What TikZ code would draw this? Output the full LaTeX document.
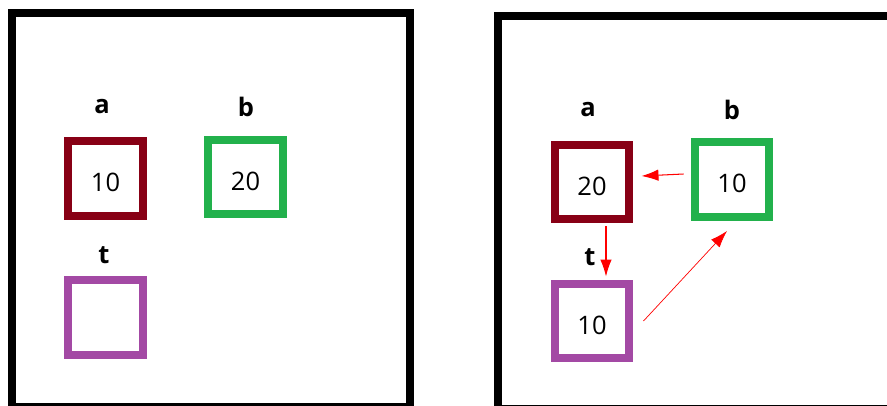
\documentclass[tikz,border=0pt]{standalone}
\usepackage{fontspec}
\setmainfont{Open Sans}
\usetikzlibrary{arrows.meta,positioning}
\definecolor{ink}{HTML}{000000}
\definecolor{darkred}{HTML}{880015}
\definecolor{paintgreen}{HTML}{22B14C}
\definecolor{paintpurple}{HTML}{A349A4}
\definecolor{arrowred}{HTML}{FF0000}

\begin{document}
\begin{tikzpicture}[x=0.02cm,y=-0.02cm,
  frame/.style={draw=ink,line width=0.16cm},
  cell/.style={draw,line width=0.16cm,minimum size=1.5cm,inner sep=0pt,
    text height=15pt,text depth=0pt,font=\fontsize{14.5}{17}\selectfont},
  varname/.style={inner sep=0pt,font=\fontsize{14.5}{17}\selectfont\bfseries},
  swap/.style={-{Latex[length=3.4mm,width=2.3mm]},draw=arrowred,line width=0.6pt}
]
\clip (0,0) rectangle (887,406);

% before the swap
\draw[frame] (12,13) rectangle (409.5,407);
\node[cell,draw=darkred] (aL) at (105.5,178.5) {10};
\node[cell,draw=paintgreen] (bL) at (245.5,177) {20};
\node[cell,draw=paintpurple] (tL) at (105.5,317.5) {};
\node[varname] (aLname) at (102,107) {a};
\node[varname] (bLname) at (246,107) {b};
\node[varname] (tLname) at (104,255) {t};

% after the swap
\draw[frame] (498,16) rectangle (900,409);
\node[cell,draw=darkred] (aR) at (592,182) {20};
\node[cell,draw=paintgreen] (bR) at (732,179.5) {10};
\node[cell,draw=paintpurple] (tR) at (592,321) {10};
\node[varname] (aRname) at (588,110) {a};
\node[varname] (bRname) at (732,110) {b};
\node[varname] (tRname) at (590,257) {t};

\draw[swap] ([yshift=0.11cm]bR.west) ++(-0.14cm,0) -- ([shift={(0.16cm,0.12cm)}]aR.east);
\draw[swap] ([shift={(0.28cm,-0.06cm)}]aR.south) -- ([shift={(0.28cm,0.06cm)}]tR.north);
\draw[swap,line width=0.4pt] ([xshift=0.2cm]tR.east) -- ([shift={(-0.1cm,-0.2cm)}]bR.south);
\end{tikzpicture}
\end{document}
